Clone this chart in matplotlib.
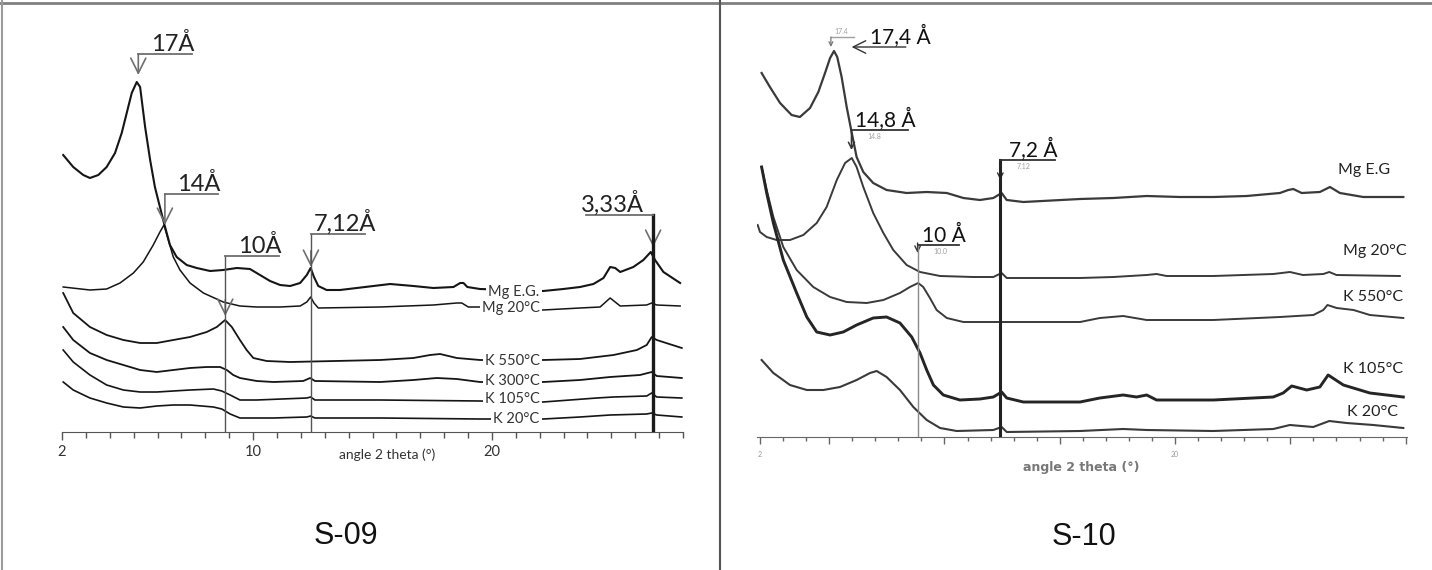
import numpy as np
import matplotlib
matplotlib.use("Agg")
import matplotlib.pyplot as plt
from matplotlib.lines import Line2D

plt.rcParams['font.family'] = ['Lato', 'DejaVu Sans']

# Cu K-alpha, used to place the d-spacing markers
wavelength = 1.5406

# ---- S-09 patterns (2 theta in degrees, intensity in counts, arbitrary offset) ----
s09_mgeg_x = [2.05, 2.47, 2.89, 3.17, 3.52, 3.87, 4.22, 4.50, 4.71, 4.92, 5.13, 5.27, 5.48, 5.69, 5.89, 6.10,
              6.27, 6.52, 6.80, 7.22, 7.64, 8.20, 8.75, 9.32, 9.87, 10.29, 10.71, 11.13, 11.55, 11.97, 12.25,
              12.41, 12.55, 12.73, 13.08, 13.64, 14.34, 15.04, 15.74, 16.71, 17.55, 18.39, 18.67, 18.81, 18.97,
              19.50, 22.15, 22.99, 23.69, 24.25, 24.67, 24.95, 25.16, 25.37, 25.92, 26.34, 26.65, 26.83, 27.18, 27.88]
s09_mgeg_y = [277, 265, 257, 254, 257, 265, 279, 299, 319, 339, 350, 345, 305, 272, 245, 225,
              209, 187, 175, 167, 164, 161, 162, 164, 163, 157, 151, 147, 146, 149, 157,
              164, 155, 146, 142, 142, 144, 146, 148, 146, 144, 145, 149, 149, 145,
              143, 141, 143, 145, 148, 154, 165, 164, 160, 165, 172, 180, 172, 160, 149]

s09_mg20_x = [2.05, 3.17, 3.87, 4.43, 4.99, 5.40, 5.82, 6.10, 6.27, 6.45, 6.66, 6.94, 7.36, 7.92, 8.75, 9.45,
              10.15, 11.13, 11.97, 12.25, 12.41, 12.55, 12.73, 15.32, 17.55, 18.53, 18.74, 19.01, 19.50, 22.15,
              23.69, 24.53, 24.95, 25.37, 26.48, 26.69, 26.90, 27.88]
s09_mg20_y = [145, 142, 143, 149, 159, 170, 187, 200, 207, 192, 175, 162, 149, 139, 130, 126,
              125, 125, 126, 130, 135, 129, 124, 125, 127, 129, 129, 125, 125, 122,
              124, 125, 134, 126, 127, 129, 127, 126]

s09_k550_x = [2.05, 2.47, 3.17, 3.87, 4.57, 5.27, 5.97, 6.66, 7.36, 8.06, 8.48, 8.83, 9.11, 9.45, 9.73, 10.01,
              10.57, 11.55, 15.32, 16.71, 17.41, 17.83, 18.53, 19.50, 22.15, 23.69, 25.09, 26.07, 26.48, 26.69,
              26.90, 27.95]
s09_k550_y = [139, 119, 105, 97, 92, 89, 89, 92, 95, 100, 105, 112, 105, 92, 82, 74,
              71, 70, 72, 74, 77, 78, 74, 72, 72, 73, 77, 82, 87, 95,
              92, 84]

s09_k300_x = [2.05, 2.47, 3.17, 3.87, 4.57, 5.27, 5.97, 6.66, 7.36, 8.06, 8.62, 8.90, 9.17, 9.45, 10.15, 10.85,
              12.10, 12.39, 12.59, 15.32, 16.71, 17.69, 18.53, 19.50, 22.15, 23.69, 24.95, 26.20, 26.69, 26.90, 27.95]
s09_k300_y = [105, 92, 79, 72, 67, 62, 60, 62, 64, 65, 65, 62, 57, 54, 51, 50,
              51, 54, 51, 50, 52, 54, 53, 50, 50, 52, 55, 57, 60, 56, 54]

s09_k105_x = [2.05, 2.47, 3.17, 3.87, 4.57, 5.27, 5.97, 6.66, 7.36, 8.34, 8.69, 9.04, 9.45, 10.15, 12.25, 12.41,
              12.59, 15.32, 19.50, 22.15, 24.39, 25.09, 26.48, 26.69, 26.90, 27.95]
s09_k105_y = [82, 70, 57, 47, 42, 40, 40, 41, 42, 43, 41, 37, 32, 32, 34, 35,
              32, 32, 31, 30, 34, 35, 36, 39, 35, 34]

s09_k20_x = [2.05, 2.47, 3.17, 3.87, 4.57, 5.27, 5.97, 6.66, 7.36, 8.34, 8.69, 9.04, 9.45, 10.85, 12.25, 12.41,
             12.59, 15.32, 19.50, 22.15, 23.69, 24.95, 26.48, 26.69, 26.90, 27.95]
s09_k20_y = [50, 42, 34, 29, 25, 24, 26, 27, 27, 25, 23, 18, 14, 14, 15, 16,
             14, 14, 13, 13, 15, 17, 18, 19, 17, 15]

s09_labels = ['Mg E.G.', 'Mg 20°C', 'K 550°C', 'K 300°C', 'K 105°C', 'K 20°C']
s09_label_y = [140, 124, 71, 51, 33, 13]

s09_d = [17, 14, 10, 7.12, 3.33]
s09_d_text = ['17Å', '14Å', '10Å', '7,12Å', '3,33Å']

# ---- S-10 patterns ----
s10_mgeg_x = [2.07, 2.43, 2.87, 3.37, 3.73, 4.17, 4.53, 4.82, 5.04, 5.21, 5.35, 5.54, 5.76, 5.98, 6.19, 6.48,
              6.91, 7.49, 8.36, 9.23, 10.10, 10.82, 11.54, 12.12, 12.48, 12.70, 13.42, 15.88, 17.32, 18.77,
              20.21, 21.66, 23.11, 24.55, 24.91, 25.13, 25.49, 26.28, 26.72, 27.15, 28.16, 29.90]
s10_mgeg_y = [364, 350, 334, 322, 320, 329, 345, 364, 379, 386, 380, 360, 330, 304, 280, 265,
              254, 247, 244, 245, 244, 239, 237, 239, 244, 237, 235, 238, 239, 241,
              240, 240, 241, 244, 247, 248, 244, 245, 250, 244, 240, 240]

s10_mg20_x = [1.90, 2.00, 2.29, 2.72, 3.30, 3.88, 4.46, 4.89, 5.33, 5.69, 5.98, 6.19, 6.48, 6.91, 7.35, 7.78,
              8.36, 8.94, 9.81, 11.25, 12.12, 12.48, 12.70, 15.88, 17.32, 18.77, 19.20, 19.63, 21.66, 24.26,
              24.98, 25.55, 26.43, 26.69, 27.00, 29.75]
s10_mg20_y = [212, 205, 200, 197, 197, 202, 214, 230, 257, 274, 279, 270, 250, 224, 204, 187,
              172, 165, 161, 160, 160, 164, 159, 159, 160, 162, 163, 161, 161, 163,
              165, 162, 163, 165, 162, 161]

s10_k550_x = [2.07, 2.29, 2.58, 3.01, 3.59, 4.31, 5.04, 5.76, 6.63, 7.35, 8.07, 8.50, 8.86, 9.08, 9.37, 9.66,
              10.10, 10.82, 15.88, 16.74, 17.75, 18.77, 21.66, 24.55, 26.00, 26.43, 26.61, 27.01, 27.74, 28.45, 29.90]
s10_k550_y = [270, 247, 220, 190, 167, 150, 140, 135, 134, 137, 144, 150, 154, 150, 139, 127,
              119, 115, 115, 119, 121, 117, 117, 120, 122, 127, 132, 129, 127, 122, 119]

s10_k105_x = [2.07, 2.29, 2.58, 3.01, 3.59, 4.03, 4.46, 5.04, 5.61, 6.19, 6.91, 7.49, 8.07, 8.58, 8.94, 9.23,
              9.52, 9.95, 10.67, 11.54, 12.12, 12.48, 12.70, 13.42, 15.88, 16.74, 17.75, 18.33, 18.77, 19.20,
              21.66, 24.26, 24.69, 25.06, 25.71, 26.28, 26.64, 27.30, 28.45, 29.90]
s10_k105_y = [270, 244, 214, 177, 144, 120, 105, 102, 105, 112, 119, 120, 114, 100, 84, 67,
              52, 42, 37, 38, 40, 45, 39, 35, 35, 39, 42, 40, 42, 37,
              37, 40, 44, 51, 47, 50, 62, 52, 44, 40]

s10_k20_x = [2.07, 2.58, 3.30, 4.03, 4.75, 5.47, 6.19, 6.77, 7.06, 7.49, 8.07, 8.65, 9.23, 9.81, 10.53, 12.12,
             12.48, 12.70, 15.88, 17.75, 18.77, 21.66, 24.26, 24.98, 25.99, 26.69, 27.44, 28.60, 29.90]
s10_k20_y = [77, 64, 52, 47, 47, 50, 57, 64, 66, 60, 47, 30, 17, 9, 6, 7,
             10, 5, 6, 8, 7, 6, 8, 12, 10, 16, 14, 12, 9]

s10_labels = ['Mg E.G', 'Mg 20°C', 'K 550°C', 'K 105°C', 'K 20°C']
s10_label_x = [27.07, 27.28, 27.28, 27.28, 27.46]
s10_label_y = [267, 186, 140, 68, 25]

s10_d = [17.4, 14.8, 10, 7.12]
s10_d_text = ['17,4 Å', '14,8 Å', '10 Å', '7,2 Å']
s10_d_small = ['17.4', '14.8', '10.0', '7.12']


def bragg(d):
    return 2 * np.degrees(np.arcsin(wavelength / (2 * np.asarray(d, dtype=float))))


def arrowhead(ax, x, tip, size, color, lw):
    ax.annotate('', xy=(x, tip), xytext=(x, tip + size * 0.9),
                arrowprops=dict(arrowstyle='->,head_length=0.6,head_width=0.3', color=color,
                                lw=lw, mutation_scale=size, shrinkA=0, shrinkB=0))


W, H = 1432, 570
fig = plt.figure(figsize=(W / 100, H / 100), dpi=100)

# ================= S-09 =================
ax1 = fig.add_axes([62 / W, (H - 432) / H, 621 / W, 432 / H])
ax1.set_xlim(2, 28)
ax1.set_ylim(0, 432)

lc = '#151515'
ax1.plot(s09_mgeg_x, s09_mgeg_y, color=lc, lw=1.5)
ax1.plot(s09_mg20_x, s09_mg20_y, color=lc, lw=1.1)
ax1.plot(s09_k550_x, s09_k550_y, color=lc, lw=1.3)
ax1.plot(s09_k300_x, s09_k300_y, color=lc, lw=1.3)
ax1.plot(s09_k105_x, s09_k105_y, color=lc, lw=1.2)
ax1.plot(s09_k20_x, s09_k20_y, color=lc, lw=1.2)

for lab, y in zip(s09_labels, s09_label_y):
    ax1.text(22.0, y, lab, ha='right', va='center', fontsize=10.5, color='#333333',
             bbox=dict(facecolor='white', edgecolor='none', pad=1.5), zorder=5)

gx = '#6e6e6e'
pk09 = bragg(s09_d)
brk_y = [378, 238, 176, 198, 217]
brk_dx = [2.26, 2.22, 2.26, 2.26, -2.80]
tips = [357, 207, 116, 165, 185]
to_axis = [False, False, True, True, True]
for x, txt, yb, dx, tip, full in zip(pk09, s09_d_text, brk_y, brk_dx, tips, to_axis):
    ax1.plot([x, x + dx], [yb, yb], color=gx, lw=1.3, zorder=6)
    ax1.text(x + dx / 2 + 0.3 * np.sign(dx), yb + 3, txt, ha='center', va='baseline',
             fontsize=17, color='#222222', zorder=6)
    if full:
        thick = txt.startswith('3')
        ax1.plot([x, x], [0, yb], color='#1a1a1a' if thick else '#555555',
                 lw=2.4 if thick else 1.0, zorder=4)
        arrowhead(ax1, x, tip, 18, gx, 1.2)
    else:
        ax1.annotate('', xy=(x, tip), xytext=(x, yb),
                     arrowprops=dict(arrowstyle='->,head_length=0.6,head_width=0.3', color=gx,
                                     lw=1.2, mutation_scale=18, shrinkA=0, shrinkB=0))

for s in ['top', 'right', 'left']:
    ax1.spines[s].set_visible(False)
ax1.spines['bottom'].set_color('#555555')
ax1.set_yticks([])
ax1.set_xticks([2, 10, 20])
ax1.set_xticks(np.arange(2, 29, 1), minor=True)
ax1.tick_params(axis='x', which='major', length=6, width=1, color='#555555',
                labelsize=10.5, labelcolor='#333333', pad=3)
ax1.tick_params(axis='x', which='minor', length=4, width=1, color='#555555')
ax1.text(15.6, -23, 'angle 2 theta (°)', ha='center', va='center', fontsize=10, color='#333333')

# ================= S-10 =================
ax2 = fig.add_axes([757 / W, (H - 437) / H, 650 / W, 437 / H])
ax2.set_xlim(1.87, 30.06)
ax2.set_ylim(0, 437)

rc = '#3a3a3a'
ax2.plot(s10_mgeg_x, s10_mgeg_y, color=rc, lw=1.6)
ax2.plot(s10_mg20_x, s10_mg20_y, color=rc, lw=1.4)
ax2.plot(s10_k550_x, s10_k550_y, color=rc, lw=1.4)
ax2.plot(s10_k105_x, s10_k105_y, color='#252525', lw=2.1)
ax2.plot(s10_k20_x, s10_k20_y, color=rc, lw=1.5)

for lab, x, y in zip(s10_labels, s10_label_x, s10_label_y):
    ax2.text(x, y, lab, ha='left', va='center', fontsize=11.5, color='#222222')

pk10 = bragg(s10_d)
small_c = '#a0a0a0'

# 17,4 A: side label with a leftward arrow, plus a small marker above the peak
x = pk10[0]
ax2.plot([x, x + 1.0], [400, 400], color=small_c, lw=1.0)
ax2.text(x + 0.45, 401.5, s10_d_small[0], ha='center', va='bottom', fontsize=5, color=small_c)
ax2.annotate('', xy=(x, 390), xytext=(x, 400),
             arrowprops=dict(arrowstyle='->', color='#777777', lw=0.9, mutation_scale=7,
                             shrinkA=0, shrinkB=0))
ax2.annotate('', xy=(x + 0.9, 390), xytext=(x + 3.25, 390),
             arrowprops=dict(arrowstyle='->,head_length=0.5,head_width=0.25', color='#333333',
                             lw=1.0, mutation_scale=18, shrinkA=0, shrinkB=0))
ax2.text(x + 3.0, 393, s10_d_text[0], ha='center', va='baseline', fontsize=15, color='#111111')

brk10_y = [307, 192, 277]
brk10_dx = [2.47, 1.78, 2.38]
tips10 = [287, 184, 257]
for i, (yb, dx, tip) in enumerate(zip(brk10_y, brk10_dx, tips10), start=1):
    x = pk10[i]
    ax2.plot([x, x + dx], [yb, yb], color='#333333', lw=1.3, zorder=6)
    ax2.text(x + dx / 2 + 0.25, yb + 3, s10_d_text[i], ha='center', va='baseline',
             fontsize=15, color='#111111', zorder=6)
    ax2.text(x + 0.7, yb - 3, s10_d_small[i], ha='left', va='top', fontsize=5, color=small_c)
    if i == 1:
        ax2.annotate('', xy=(x, tip), xytext=(x, yb),
                     arrowprops=dict(arrowstyle='->', color='#333333', lw=1.1, mutation_scale=11,
                                     shrinkA=0, shrinkB=0))
    else:
        thick = i == 3
        ax2.plot([x, x], [0, yb], color='#222222' if thick else '#8a8a8a',
                 lw=2.2 if thick else 1.0, zorder=4)
        ax2.annotate('', xy=(x, tip), xytext=(x, tip + 10),
                     arrowprops=dict(arrowstyle='->', color='#333333', lw=1.0, mutation_scale=10,
                                     shrinkA=0, shrinkB=0))

for s in ['top', 'right', 'left']:
    ax2.spines[s].set_visible(False)
ax2.spines['bottom'].set_color('#666666')
ax2.set_yticks([])
ax2.set_xticks([2, 5, 10, 15, 20, 25, 30])
ax2.set_xticklabels(['2', '', '', '', '20', '', ''])
ax2.set_xticks(np.arange(2, 31, 1), minor=True)
ax2.tick_params(axis='x', which='major', length=5, width=1, color='#666666',
                labelsize=5, labelcolor='#999999', pad=5)
ax2.tick_params(axis='x', which='minor', length=3, width=1, color='#666666')
ax2.text(15.92, -30, 'angle 2 theta (°)', ha='center', va='center', fontsize=9,
         color='#777777', family='DejaVu Sans', fontweight='bold')

# ---- panel titles and frame ----
fig.text(346 / W, 1 - 536 / H, 'S-09', ha='center', va='center', fontsize=22,
         family='Liberation Sans', color='#111111')
fig.text(1084 / W, 1 - 537 / H, 'S-10', ha='center', va='center', fontsize=22,
         family='Liberation Sans', color='#111111')

fig.add_artist(Line2D([0, 1], [1 - 3 / H, 1 - 3 / H], transform=fig.transFigure, color='#808080', lw=2))
fig.add_artist(Line2D([2 / W, 2 / W], [0, 1], transform=fig.transFigure, color='#9a9a9a', lw=1.5))
fig.add_artist(Line2D([720 / W, 720 / W], [0, 1], transform=fig.transFigure, color='#555555', lw=1.5))

fig.savefig('out.png', dpi=100)
